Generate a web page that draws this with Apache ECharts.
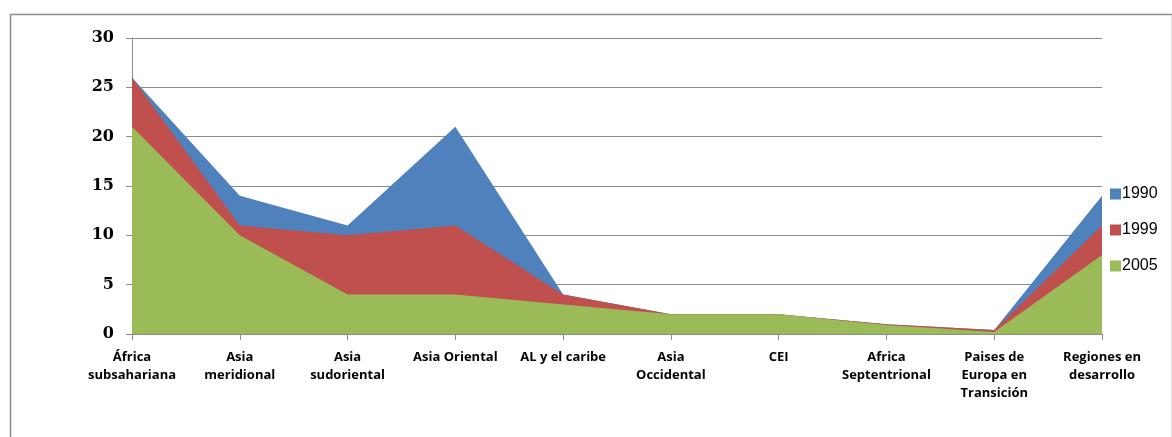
<!DOCTYPE html>
<html>
<head>
<meta charset="utf-8">
<script src="https://cdn.jsdelivr.net/npm/echarts@6/dist/echarts.min.js"></script>
<style>
html,body{margin:0;padding:0;background:#fff;}
#chart{width:1172px;height:437px;}
</style>
</head>
<body>
<div id="chart"></div>
<script>
const categories = ['África\nsubsahariana','Asia\nmeridional','Asia\nsudoriental','Asia Oriental','AL y el caribe','Asia\nOccidental','CEI','Africa\nSeptentrional','Paises de\nEuropa en\nTransición','Regiones en\ndesarrollo'];
const seriesNames = ['1990','1999','2005'];
const values1990 = [26, 14, 11, 21, 4, 2, 2, 1, 0.4, 14];
const values1999 = [26, 11, 10, 11, 4, 2, 2, 1, 0.4, 11];
const values2005 = [21, 10, 4, 4, 3, 2, 2, 0.9, 0.2, 8];
const yTicks = {min: 0, max: 30, interval: 5};
const colors = ['#4F81BD','#C0504D','#9BBB59'];

const chart = echarts.init(document.getElementById('chart'));
const data = [values1990, values1999, values2005];
chart.setOption({
  animation: false,
  color: colors,
  graphic: [{
    type: 'rect', left: 8, top: 12,
    shape: {width: 1162, height: 440},
    style: {fill: 'none', stroke: '#8c8c8c', lineWidth: 1.5}
  }],
  grid: {left: 132, top: 38, right: 70, bottom: 103},
  legend: {
    orient: 'vertical', left: 1105, top: 181,
    itemWidth: 11, itemHeight: 11, itemGap: 20,
    icon: 'rect',
    textStyle: {fontFamily: 'Liberation Sans', fontSize: 16, color: '#000', padding: [0,0,0,-4]},
    data: seriesNames
  },
  xAxis: {
    type: 'category', data: categories, boundaryGap: false,
    axisLine: {lineStyle: {color: '#8c8c8c', width: 1}},
    axisTick: {show: true, alignWithLabel: true, length: 6, lineStyle: {color: '#8c8c8c'}},
    axisLabel: {interval: 0, margin: 14, fontFamily: 'Open Sans', fontWeight: 'bold', fontSize: 13, lineHeight: 18, color: '#000'},
    splitLine: {show: false}
  },
  yAxis: {
    type: 'value', min: yTicks.min, max: yTicks.max, interval: yTicks.interval,
    axisLine: {show: true, lineStyle: {color: '#8c8c8c', width: 1}},
    axisTick: {show: true, length: 6, lineStyle: {color: '#8c8c8c'}},
    axisLabel: {margin: 18, fontFamily: 'DejaVu Serif', fontWeight: 'bold', fontSize: 16, color: '#000'},
    splitLine: {lineStyle: {color: '#8c8c8c', width: 1}}
  },
  series: seriesNames.map((n, i) => ({
    name: n, type: 'line', data: data[i],
    symbol: 'none', lineStyle: {width: 0},
    areaStyle: {color: colors[i], opacity: 1},
    z: 2 + i
  }))
});
</script>
</body>
</html>
